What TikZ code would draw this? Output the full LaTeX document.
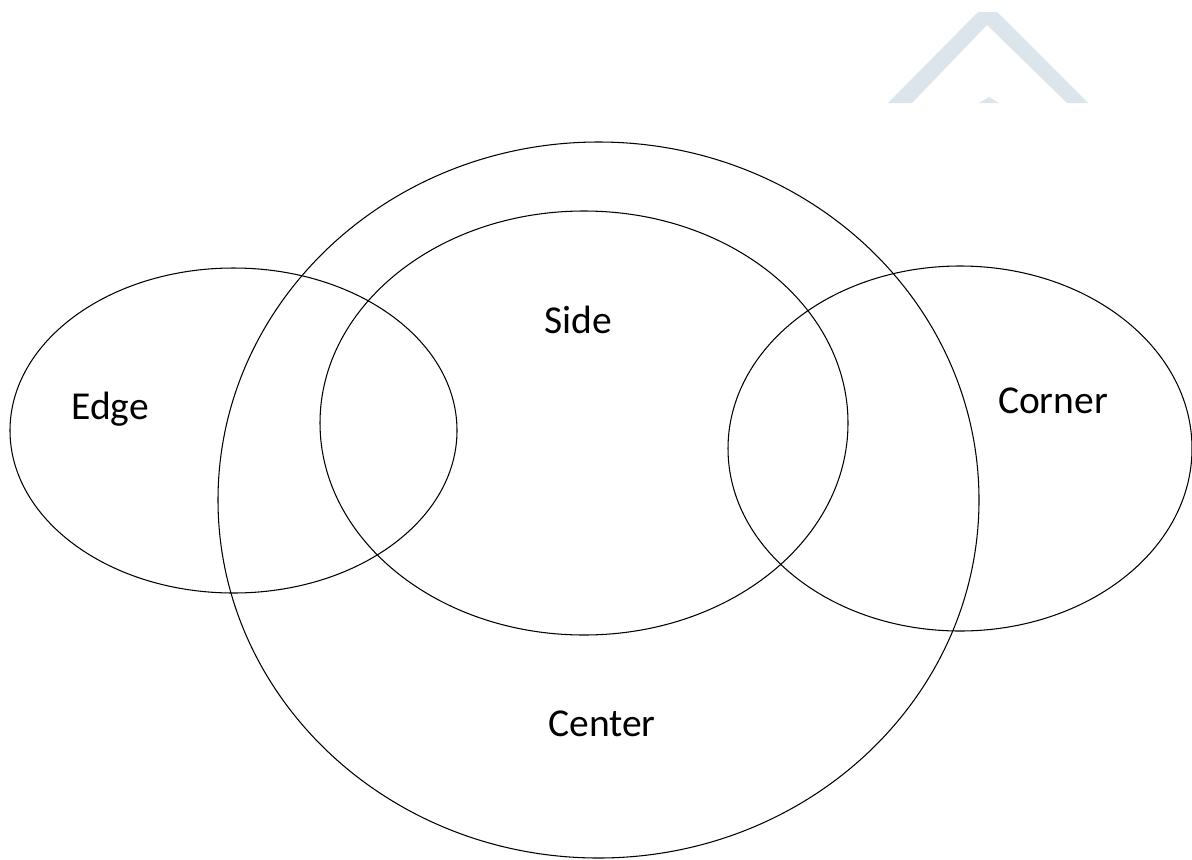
\documentclass[tikz,border=0pt]{standalone}
\usepackage{fontspec}
\setmainfont{Carlito}
\usetikzlibrary{shapes.geometric}
\definecolor{markblue}{HTML}{DCE5EB}

\begin{document}
\begin{tikzpicture}[x=0.02cm, y=-0.02cm,
  every node/.style={font=\fontsize{22.5}{27}\selectfont},
  venn/.style={draw, ellipse, line width=0.6pt, inner sep=0pt, outer sep=0pt}]
\useasboundingbox (0,0) rectangle (1192,859);
% watermark
\fill[markblue] (888,103) -- (978,12) -- (997,12) -- (1088,103) -- (1067,103) -- (987,25) -- (912,103) -- cycle;
\fill[markblue] (979,103) -- (989,97) -- (999,103) -- cycle;
% sets
\node[venn, minimum width=761*0.02cm, minimum height=716*0.02cm] (center) at (598.5,500) {};
\node[venn, minimum width=528*0.02cm, minimum height=424*0.02cm] (side) at (584,423) {};
\node[venn, minimum width=447*0.02cm, minimum height=325*0.02cm] (edge) at (233.5,430.5) {};
\node[venn, minimum width=464*0.02cm, minimum height=365*0.02cm] (corner) at (960,448.5) {};
% labels
\node[anchor=base] (edgelabel) at (110,419) {Edge};
\node[anchor=base] (sidelabel) at (578,333) {Side};
\node[anchor=base] (cornerlabel) at (1053,413) {Corner};
\node[anchor=base] (centerlabel) at (602,736) {Center};
\end{tikzpicture}
\end{document}
